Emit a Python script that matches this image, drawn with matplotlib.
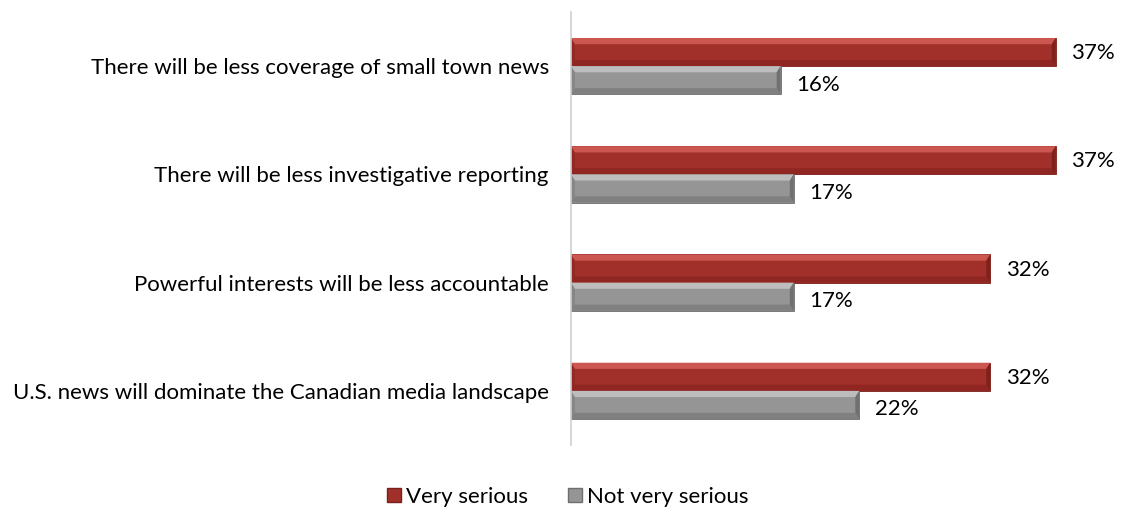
import matplotlib.pyplot as plt
from matplotlib.patches import Polygon, Patch
import numpy as np

categories = ['There will be less coverage of small town news',
              'There will be less investigative reporting',
              'Powerful interests will be less accountable',
              'U.S. news will dominate the Canadian media landscape']
very_serious = [37, 37, 32, 32]
not_very_serious = [16, 17, 17, 22]
series_names = ['Very serious', 'Not very serious']

plt.rcParams['font.family'] = ['Lato', 'DejaVu Sans']

red = '#a2302a'
gray = '#959595'
fs = 16

fig = plt.figure(figsize=(11.28, 5.08), dpi=100)
ax = fig.add_axes([571 / 1128, 63 / 508, 545 / 1128, 433 / 508])

y = np.arange(len(categories))
h = 0.26
bars_r = ax.barh(y - h / 2, very_serious, height=h, color=red, edgecolor='#7a1f1a', lw=0.6)
bars_g = ax.barh(y + h / 2, not_very_serious, height=h, color=gray, edgecolor='#6e6e6e', lw=0.6)

ax.set_xlim(0, 41.6)
ax.set_ylim(len(categories) - 0.5, -0.5)


def bevel(bar, light, dark, side):
    # light top face, darker bottom and end faces give the bevelled look
    x0, y0 = bar.get_x(), bar.get_y()
    w, hh = bar.get_width(), bar.get_height()
    x1, y1 = x0 + w, y0 + hh
    dx = 0.3
    dy = hh * 0.22
    top = [(x0, y0), (x1, y0), (x1 - dx, y0 + dy), (x0 + dx, y0 + dy)]
    bottom = [(x0, y1), (x1, y1), (x1 - dx, y1 - dy), (x0 + dx, y1 - dy)]
    right = [(x1, y0), (x1, y1), (x1 - dx, y1 - dy), (x1 - dx, y0 + dy)]
    left = [(x0, y0), (x0, y1), (x0 + dx, y1 - dy), (x0 + dx, y0 + dy)]
    ax.add_patch(Polygon(top, closed=True, color=light, lw=0))
    ax.add_patch(Polygon(bottom, closed=True, color=dark, lw=0))
    ax.add_patch(Polygon(right, closed=True, color=side, lw=0))
    ax.add_patch(Polygon(left, closed=True, color=side, lw=0, alpha=0.4))


for b in bars_r:
    bevel(b, '#cc5650', '#8f2621', '#80201b')
for b in bars_g:
    bevel(b, '#bdbdbd', '#808080', '#707070')

for yi, v in zip(y, very_serious):
    ax.text(v + 1.2, yi - h / 2 + 0.01, f'{v}%', va='center', ha='left', fontsize=fs)
for yi, v in zip(y, not_very_serious):
    ax.text(v + 1.2, yi + h / 2 + 0.04, f'{v}%', va='center', ha='left', fontsize=fs)

ax.set_yticks(y)
ax.set_yticklabels(categories, fontsize=fs)
ax.tick_params(axis='y', length=0, pad=16)
ax.set_xticks([])
for s in ['top', 'right', 'bottom']:
    ax.spines[s].set_visible(False)
ax.spines['left'].set_color('#d0d0d0')
ax.spines['left'].set_linewidth(1.2)

handles = [Patch(facecolor=red, edgecolor='#7a1f1a'), Patch(facecolor=gray, edgecolor='#6e6e6e')]
fig.legend(handles, series_names, loc='center', bbox_to_anchor=(568 / 1128, 1 - 497 / 508),
           ncol=2, frameon=False, fontsize=fs, handlelength=0.6, handleheight=0.6,
           handletextpad=0.25, columnspacing=1.8)

fig.savefig('out.png', dpi=100)
